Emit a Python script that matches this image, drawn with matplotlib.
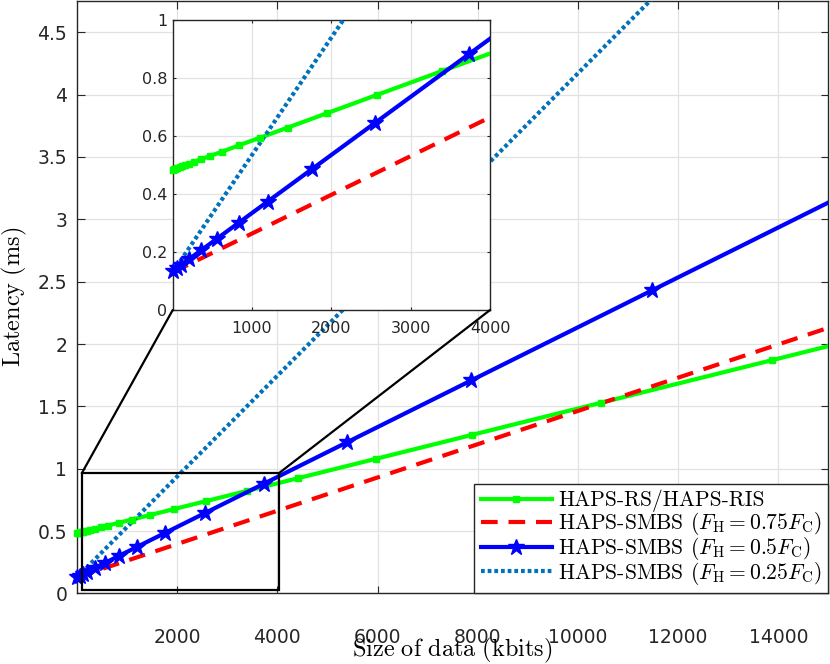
import matplotlib
matplotlib.use('Agg')
import matplotlib.pyplot as plt
import matplotlib.patches as patches
from matplotlib.patches import ConnectionPatch
from matplotlib.lines import Line2D

plt.rcParams['mathtext.fontset'] = 'cm'
plt.rcParams['font.family'] = ['DejaVu Sans']

# Data (x in kbits, latency in ms)
x_rs = [0, 15, 35, 60, 90, 120, 155, 200, 265, 355, 470, 620, 835, 1100, 1450,
        1940, 2570, 3390, 4410, 5960, 7880, 10460, 13880, 15000]
y_rs = [0.483, 0.485, 0.487, 0.489, 0.492, 0.495, 0.499, 0.503, 0.510, 0.519,
        0.530, 0.545, 0.567, 0.593, 0.628, 0.677, 0.740, 0.822, 0.924, 1.079,
        1.271, 1.529, 1.871, 1.983]

x_075 = [0, 15000]
y_075 = [0.13, 2.13]

x_05 = [0, 50, 110, 200, 360, 560, 835, 1195, 1750, 2550, 3730, 5385, 7875,
        11485, 15000]
y_05 = [0.134, 0.144, 0.156, 0.174, 0.206, 0.246, 0.301, 0.373, 0.484, 0.644,
        0.880, 1.211, 1.709, 2.431, 3.134]

x_025 = [0, 15000]
y_025 = [0.13, 6.19]

labels = ['HAPS-RS/HAPS-RIS',
          r'HAPS-SMBS ($F_\mathrm{H}=0.75F_\mathrm{C}$)',
          r'HAPS-SMBS ($F_\mathrm{H}=0.5F_\mathrm{C}$)',
          r'HAPS-SMBS ($F_\mathrm{H}=0.25F_\mathrm{C}$)']

main_xticks = [2000, 4000, 6000, 8000, 10000, 12000, 14000]
main_yticks = [0, 0.5, 1, 1.5, 2, 2.5, 3, 3.5, 4, 4.5]
ins_xticks = [1000, 2000, 3000, 4000]
ins_yticks = [0, 0.2, 0.4, 0.6, 0.8, 1]

edge = '#262626'
grid_c = '#e2e2e2'
c_green = '#00ff00'
c_blue2 = '#0072BD'
LW = 3
rs_style = dict(color=c_green, marker='s', ms=4)
s05_style = dict(color='blue', marker='*', ms=12)


def markers_in(ax, xs, ys, xmax, style, z):
    # last point is the line end only, no marker there
    pts = [(a, b) for a, b in zip(xs[:-1], ys[:-1]) if a <= xmax]
    ax.plot([p[0] for p in pts], [p[1] for p in pts], ls='none',
            clip_on=False, zorder=z, **style)


def draw_series(ax, xmax):
    ax.plot(x_rs, y_rs, color=c_green, lw=LW, zorder=3)
    markers_in(ax, x_rs, y_rs, xmax, rs_style, 3.1)
    ax.plot(x_075, y_075, color='red', lw=LW, dashes=(4, 2.6),
            dash_capstyle='butt', zorder=3)
    ax.plot(x_05, y_05, color='blue', lw=LW, zorder=4)
    markers_in(ax, x_05, y_05, xmax, s05_style, 4.1)
    ax.plot(x_025, y_025, color=c_blue2, lw=LW, dashes=(0.9, 0.7),
            dash_capstyle='butt', zorder=3)


def style_axes(ax, tick_len, fs, xpad, ypad):
    for s in ax.spines.values():
        s.set_color(edge)
        s.set_linewidth(1.0)
    ax.tick_params(direction='in', length=tick_len, width=0.8, color=edge,
                   top=True, right=True, labelsize=fs, labelcolor='#262626')
    ax.tick_params(axis='x', pad=xpad)
    ax.tick_params(axis='y', pad=ypad)
    ax.grid(True, color=grid_c, lw=0.9)
    ax.set_axisbelow(True)


fig = plt.figure(figsize=(8.3, 6.64), dpi=100)
ax = fig.add_axes([0.0928, 0.1062, 0.9052, 0.8923])
draw_series(ax, 15000)
ax.set_xlim(0, 15000)
ax.set_ylim(0, 4.75)
ax.set_xticks(main_xticks)
ax.set_yticks(main_yticks)
ax.set_yticklabels(['0', '0.5', '1', '1.5', '2', '2.5', '3', '3.5', '4', '4.5'])
style_axes(ax, 5.4, 13.5, 24.5, 7)
ax.set_xlabel(r'$\mathrm{Size\ of\ data\ (kbits)}$', fontsize=17.5, labelpad=-7.5)
ax.set_ylabel(r'$\mathrm{Latency\ (ms)}$', fontsize=17.5, labelpad=6)

handles = [
    Line2D([], [], lw=LW, **rs_style),
    Line2D([], [], color='red', lw=LW, dashes=(4, 2.6), dash_capstyle='butt'),
    Line2D([], [], lw=LW, **s05_style),
    Line2D([], [], color=c_blue2, lw=LW, dashes=(0.9, 0.7), dash_capstyle='butt'),
]
leg = ax.legend(handles, labels, loc='lower right',
                prop={'family': 'cmr10', 'size': 15.5},
                fancybox=False, framealpha=1, edgecolor=edge, borderaxespad=0,
                handlelength=3.3, handletextpad=0.3, labelspacing=-0.1,
                borderpad=0.3, numpoints=1)
leg.get_frame().set_linewidth(1.0)
leg.set_zorder(10)

# zoom rectangle on main axes
rect = patches.Rectangle((95, 0.028), 3935, 0.936, fill=False, ec='black',
                         lw=1.6, zorder=5)
ax.add_patch(rect)

# inset
axins = fig.add_axes([0.2081, 0.5331, 0.3823, 0.4375])
draw_series(axins, 4000)
axins.set_xlim(0, 4000)
axins.set_ylim(0, 1)
axins.set_xticks(ins_xticks)
axins.set_yticks(ins_yticks)
axins.set_yticklabels(['0', '0.2', '0.4', '0.6', '0.8', '1'])
style_axes(axins, 2.3, 11.5, 8, 4)

for xa, xb in [(95, 0), (4030, 1)]:
    con = ConnectionPatch(xyA=(xa, 0.964), coordsA=ax.transData,
                          xyB=(xb, 0), coordsB=axins.transAxes,
                          color='black', lw=1.6, zorder=6)
    fig.add_artist(con)

plt.savefig('out.png', dpi=100)
